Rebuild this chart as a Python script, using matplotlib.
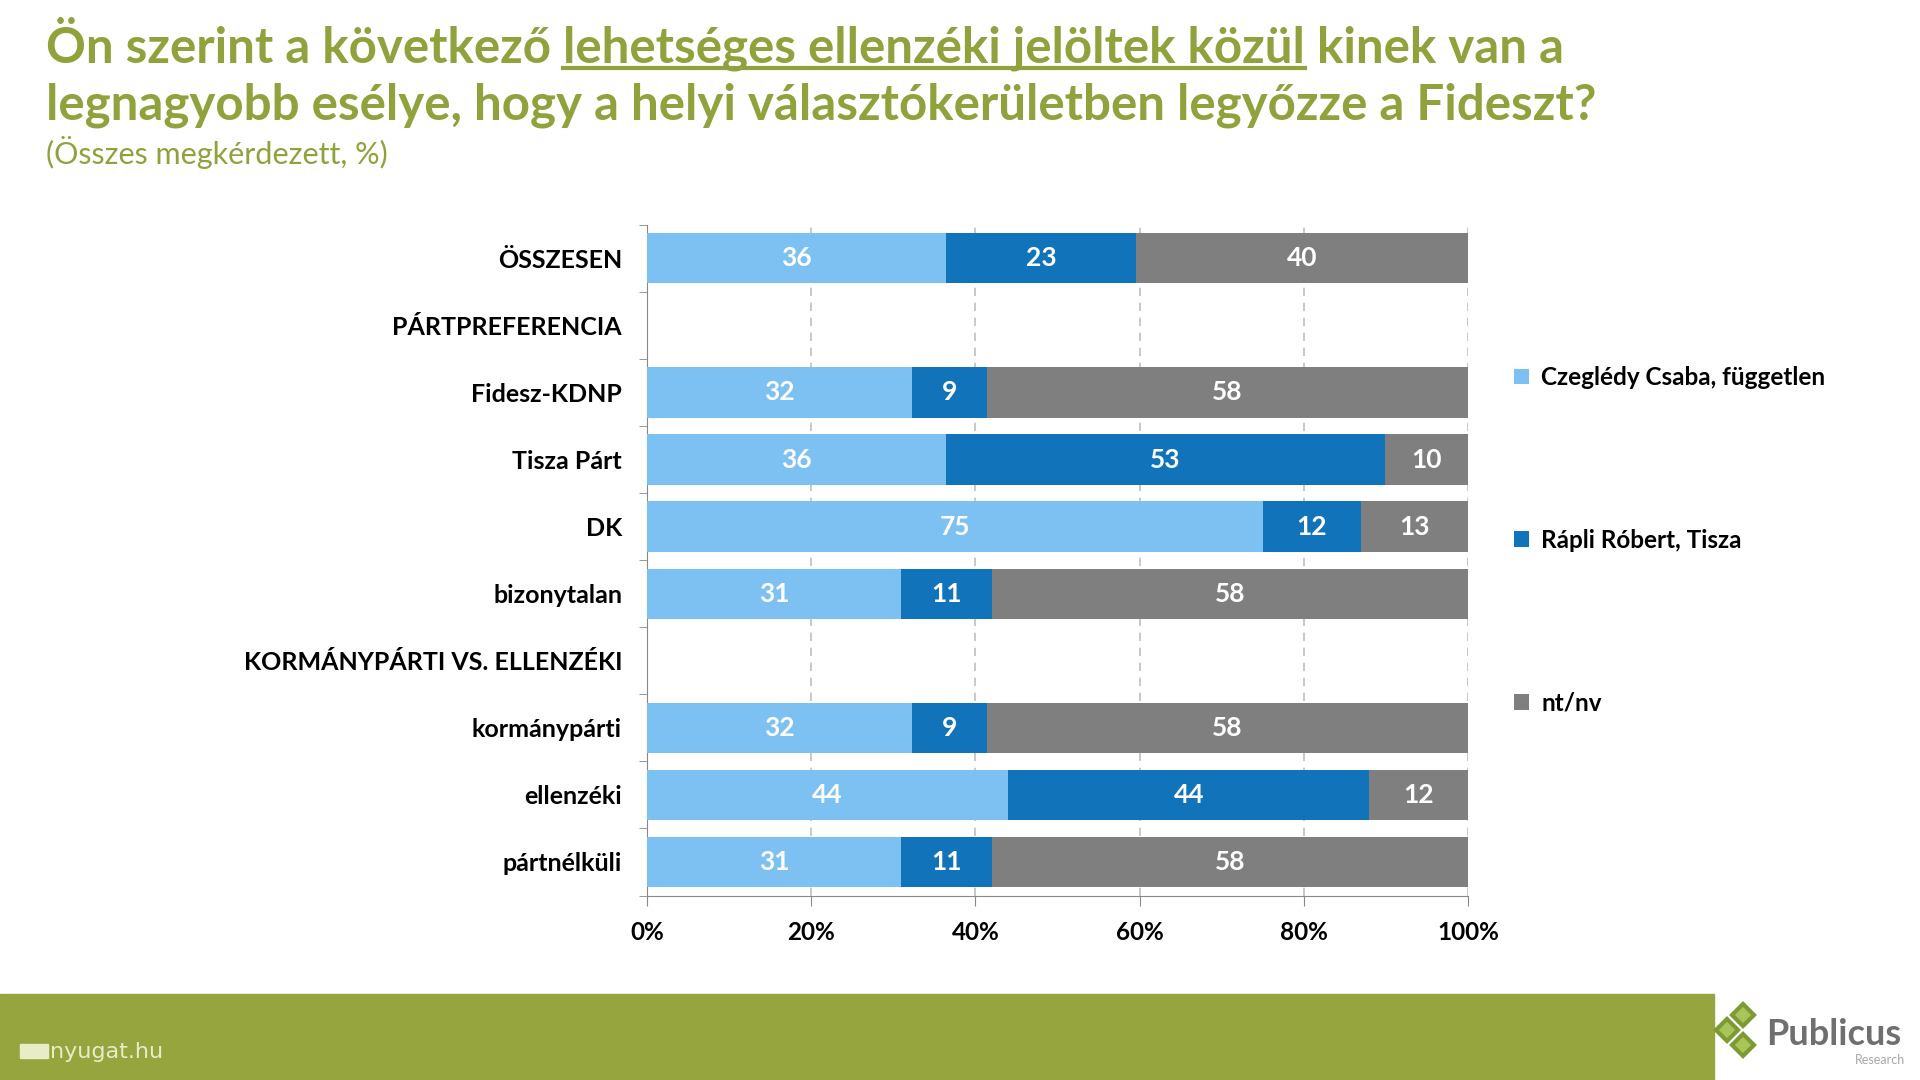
import matplotlib
matplotlib.use("Agg")
import matplotlib.pyplot as plt
from matplotlib.lines import Line2D
from matplotlib.patches import Rectangle, RegularPolygon
from matplotlib.transforms import IdentityTransform
import numpy as np

plt.rcParams['font.family'] = ['Lato', 'DejaVu Sans']

categories = ["ÖSSZESEN", "PÁRTPREFERENCIA", "Fidesz-KDNP", "Tisza Párt", "DK",
              "bizonytalan", "KORMÁNYPÁRTI VS. ELLENZÉKI", "kormánypárti",
              "ellenzéki", "pártnélküli"]
czegledy = [36, None, 32, 36, 75, 31, None, 32, 44, 31]
rapli = [23, None, 9, 53, 12, 11, None, 9, 44, 11]
ntnv = [40, None, 58, 10, 13, 58, None, 58, 12, 58]
series_names = ["Czeglédy Csaba, független", "Rápli Róbert, Tisza", "nt/nv"]
xticklabels = ["0%", "20%", "40%", "60%", "80%", "100%"]

colors = ["#7DC1F3", "#1173BA", "#7F7F7F"]
green = "#8FA23C"

fig = plt.figure(figsize=(19.2, 10.8), dpi=100)
ax = fig.add_axes([0.337, 0.1708, 0.4275, 0.6211])

series = [czegledy, rapli, ntnv]
n = len(categories)
y = np.arange(n)
left = np.zeros(n)
totals = np.array([sum(v[i] for v in series) if series[0][i] is not None else 0 for i in range(n)], dtype=float)
handles = []
for s, name, c in zip(series, series_names, colors):
    vals = np.array([v if v is not None else 0 for v in s], dtype=float)
    share = np.where(totals > 0, vals / np.where(totals > 0, totals, 1) * 100, 0)
    bars = ax.barh(y, share, left=left, height=0.75, color=c, label=name, zorder=3)
    handles.append(bars)
    for i in range(n):
        if s[i] is not None:
            ax.text(left[i] + share[i] / 2, y[i], str(s[i]), ha="center", va="center",
                    color="white", fontsize=19, fontweight="bold", zorder=4)
    left = left + share

ax.set_xlim(0, 100)
ax.set_ylim(n - 0.5, -0.5)
ax.set_yticks(y)
ax.set_yticklabels(categories, fontsize=18, fontweight="bold")
ax.set_yticks(np.arange(-0.5, n, 1), minor=True)
ax.tick_params(axis="y", which="major", length=0, pad=18)
ax.tick_params(axis="y", which="minor", length=6, color="#888888", direction="out")
ax.set_xticks([0, 20, 40, 60, 80, 100])
ax.set_xticklabels(xticklabels, fontsize=17.5, fontweight="bold")
ax.tick_params(axis="x", length=7, color="#888888", pad=11)
for sp in ["top", "right"]:
    ax.spines[sp].set_visible(False)
ax.spines["left"].set_color("#888888")
ax.spines["bottom"].set_color("#888888")
ax.grid(axis="x", color="#BFBFBF", linestyle=(0, (5, 4)), linewidth=1.2, zorder=0)
ax.set_axisbelow(True)

ax.legend(handles=handles, labels=series_names, loc="upper left",
          bbox_to_anchor=(1.03, 0.822), frameon=False,
          prop={"weight": "bold", "size": 17.5}, labelspacing=5.75,
          handlelength=0.6, handleheight=0.6, handletextpad=0.5)

# Title
tx, ty = 0.024, 0.942
tsize = 35.5
t1 = fig.text(tx, ty, "Ön szerint a következő ", fontsize=tsize, fontweight="bold",
              color=green, va="baseline")
t2 = ax.annotate("lehetséges ellenzéki jelöltek közül", xy=(1, 0), xycoords=t1,
                 fontsize=tsize, fontweight="bold", color=green, va="bottom", ha="left",
                 annotation_clip=False)
t3 = ax.annotate(" kinek van a", xy=(1, 0), xycoords=t2,
                 fontsize=tsize, fontweight="bold", color=green, va="bottom", ha="left",
                 annotation_clip=False)
fig.text(tx, 0.889, "legnagyobb esélye, hogy a helyi választókerületben legyőzze a Fideszt?",
         fontsize=tsize, fontweight="bold", color=green, va="baseline")
fig.text(tx, 0.848, "(Összes megkérdezett, %)", fontsize=22, color=green, va="baseline")

fig.canvas.draw()
bb = t2.get_window_extent()
fig.add_artist(Line2D([bb.x0 / 1920, bb.x1 / 1920], [(bb.y0 + 3) / 1080] * 2,
                      color=green, linewidth=3))

# Footer band
fig.add_artist(Rectangle((0, 0), 1714 / 1920, 86 / 1080, transform=fig.transFigure,
                         color="#97A53F", zorder=0))
fig.add_artist(Rectangle((20 / 1920, 22 / 1080), 28 / 1920, 14 / 1080, transform=fig.transFigure,
                         color="#E8EDC8", zorder=1))
fig.text(50 / 1920, 22 / 1080, "nyugat.hu", fontsize=16, color="#E8EDC8", va="baseline",
         family="Liberation Sans Narrow")
for cx, cy in [(1743, 1015), (1727, 1030), (1743, 1045)]:
    fig.add_artist(RegularPolygon((cx, 1080 - cy), 4, radius=11,
                                  transform=IdentityTransform(), facecolor="#A9C45A",
                                  edgecolor="#7E9A33", linewidth=3))
fig.text(1766 / 1920, 1 - 1045 / 1080, "Publicus", fontsize=26, fontweight="bold", color="#6F6F6F",
         va="baseline")
fig.text(1905 / 1920, 1 - 1064 / 1080, "Research", fontsize=9, color="#A8A8A8", ha="right", va="baseline")

fig.savefig("out.png", dpi=100)
